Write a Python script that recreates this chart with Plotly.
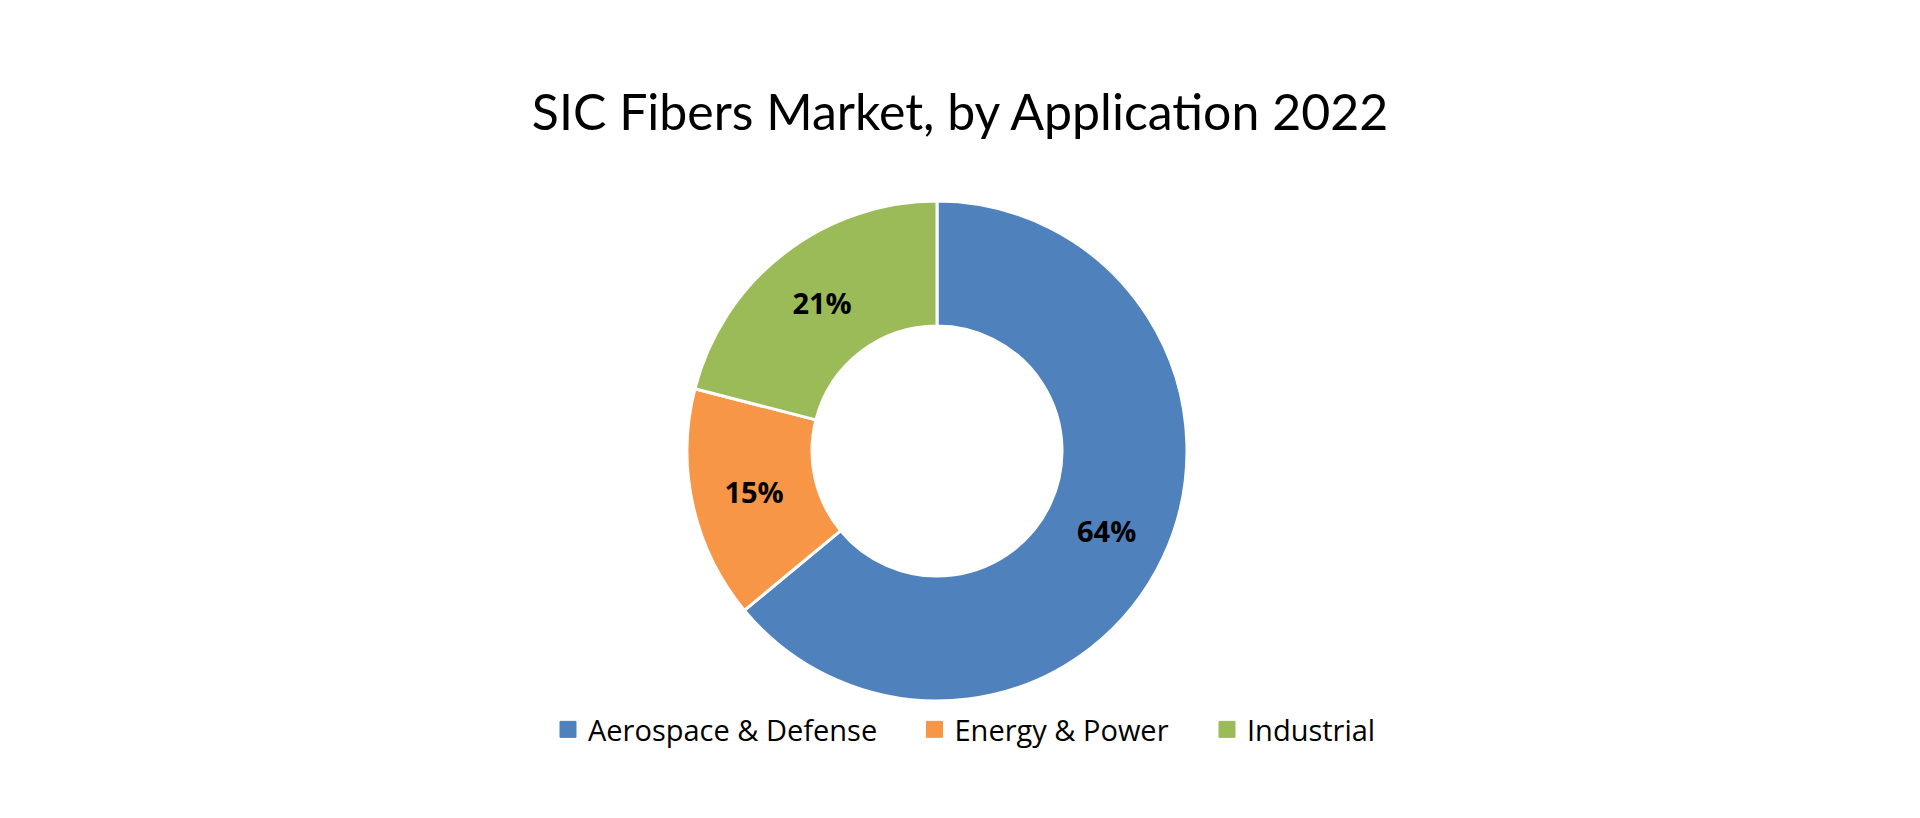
import plotly.graph_objects as go

categories = ["Aerospace & Defense", "Energy & Power", "Industrial"]
shares = [64, 15, 21]
colors = ["#4F81BD", "#F79646", "#9BBB59"]

W, H = 1920, 818
cx, cy, r = 937, 451, 250

fig = go.Figure()
fig.add_trace(go.Pie(
    labels=categories,
    values=shares,
    sort=False,
    direction="clockwise",
    rotation=0,
    hole=0.5,
    marker=dict(colors=colors, line=dict(color="white", width=3)),
    texttemplate="%{percent:.0%}",
    textposition="inside",
    insidetextorientation="horizontal",
    textfont=dict(family="Open Sans", size=29, color="black", weight="bold"),
    domain=dict(x=[(cx - r) / W, (cx + r) / W], y=[1 - (cy + r) / H, 1 - (cy - r) / H]),
    showlegend=False,
))

# legend entries (one legend per entry so spacing can match the reference)
legend_names = ["legend", "legend2", "legend3"]
marker_centers = [568, 934.5, 1227]
for cat, col, lg in zip(categories, colors, legend_names):
    fig.add_trace(go.Scatter(
        x=[None], y=[None], mode="markers", name=cat,
        marker=dict(symbol="square", size=16, color=col, line=dict(color=col, width=1)),
        legend=lg, showlegend=True, hoverinfo="skip",
    ))

legend_style = dict(
    orientation="h",
    yanchor="middle",
    y=1 - 729.5 / H,
    xanchor="left",
    font=dict(family="Open Sans", size=29, color="black"),
    bgcolor="rgba(0,0,0,0)",
)

layout_legends = {}
for lg, mc in zip(legend_names, marker_centers):
    layout_legends[lg] = dict(legend_style, x=(mc - 20) / W)

fig.update_layout(
    width=W, height=H,
    margin=dict(l=0, r=0, t=0, b=0),
    paper_bgcolor="white",
    plot_bgcolor="white",
    xaxis=dict(visible=False),
    yaxis=dict(visible=False),
    title=dict(
        text="SIC Fibers Market, by Application 2022",
        font=dict(family="Lato", size=50, color="black"),
        x=0.5, xanchor="center",
        y=1 - 112 / H, yanchor="middle",
    ),
    **layout_legends,
)

fig.write_html("out.html")
